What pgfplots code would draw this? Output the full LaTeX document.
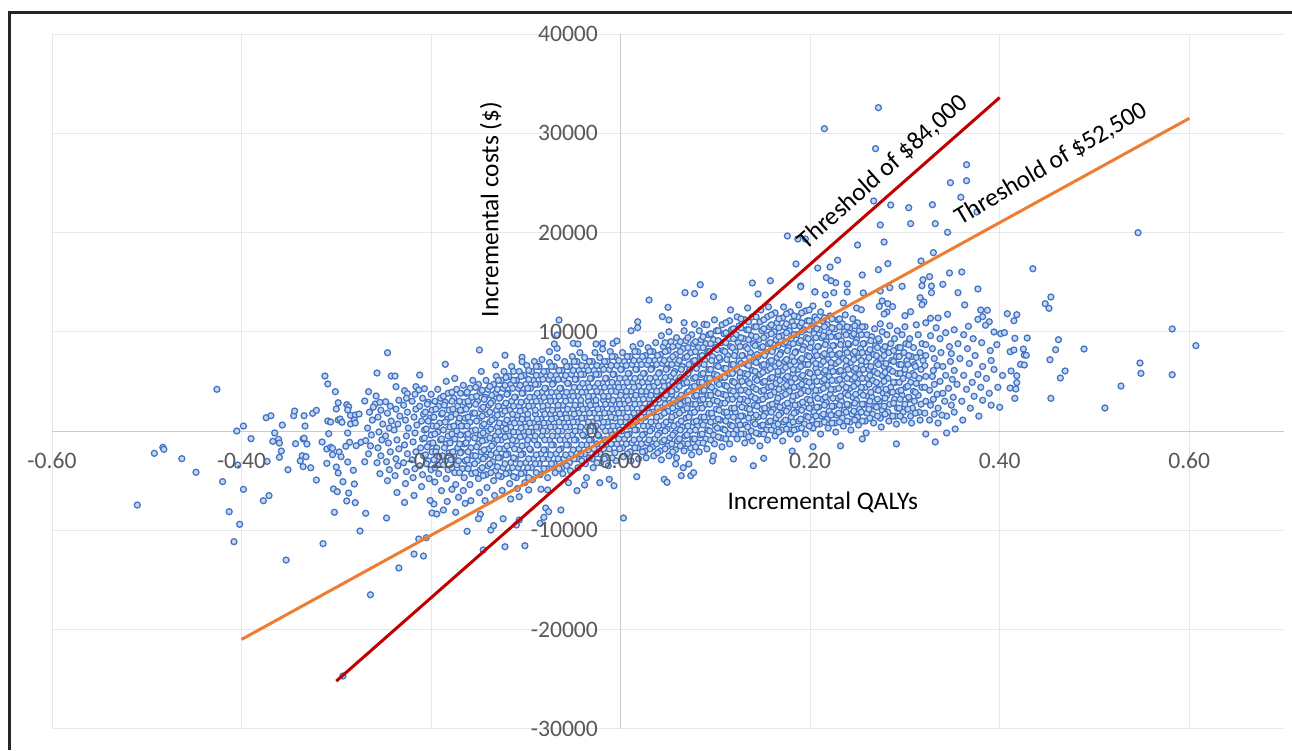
\documentclass[border=0pt]{standalone}
\usepackage{fontspec}
\setmainfont{Carlito}
\usepackage{pgfplots}
\pgfplotsset{compat=1.18}
\usepackage{pgfplotstable}
\definecolor{ptline}{HTML}{4472C4}
\definecolor{ptfill}{HTML}{C4D9F0}
\definecolor{tick}{HTML}{595959}
\pgfplotstableread{
-.510 -7460
-.492 -2250
-.483 -1650
-.482 -1850
-.463 -2790
-.426 4200
-.448 -4160
-.420 -5100
-.405 0
-.398 500
-.404 -3430
-.398 -5880
-.413 -8130
-.402 -9400
-.408 -11150
-.353 -13000
-.314 -11350
-.275 -10080
-.264 -16500
-.234 -13800
-.218 -12400
-.208 -12600
-.213 -10880
-.205 -10750
-.293 -24680
-.390 -770
-.374 1340
-.369 1540
-.357 600
-.365 -200
-.367 -1040
-.361 -840
-.360 -1210
-.358 -2020
-.360 -2650
-.373 -3060
-.371 -6510
-.377 -7020
-.351 -3900
-.345 1540
-.344 2010
-.334 1540
-.333 500
-.325 1780
-.321 2080
-.343 -1280
-.335 -800
-.334 -730
-.331 -1310
-.336 -2490
-.332 -2590
-.338 -3020
-.335 -3590
-.327 -3700
-.321 -4940
-.315 -1110
-.308 -270
-.312 5540
-.309 4740
-.301 3960
-.298 2850
-.300 2220
-.309 1010
-.306 910
-.298 1110
-.296 1210
-.294 880
-.289 2650
-.287 2450
-.288 2120
-.285 1580
-.280 1610
-.276 1710
-.285 710
-.281 1110
-.280 810
-.288 -200
-.286 -1140
-.290 -1540
-.279 -1480
-.274 -1140
-.269 -970
-.310 -1810
-.306 -1650
-.304 -1750
-.304 -2390
-.297 -2110
-.295 -2590
-.310 -3260
-.300 -3630
-.298 -4230
-.288 -3120
-.282 -3960
-.293 -5110
-.281 -5340
-.303 -5840
-.299 -6110
-.287 -6250
-.289 -7050
-.280 -7220
-.302 -8190
-.269 -8290
-.247 -8770
-.246 7890
-.257 5840
-.242 5540
-.238 5540
-.212 5640
-.237 4470
-.266 3960
-.258 3530
-.270 3020
-.259 2720
-.254 2890
-.248 2950
-.228 4060
-.225 3760
-.216 4470
-.213 4130
-.207 4260
-.149 8160
-.122 7630
-.185 6720
-.104 7430
-.104 6980
-.132 6650
-.075 7990
-.067 8330
-.070 8770
-.065 11180
-.067 9670
-.050 8830
-.045 8770
-.026 8770
-.019 8830
-.019 8260
-.008 8830
-.004 9070
.011 10100
.018 10410
.018 11010
.030 13200
.050 12460
.044 11520
.051 11180
.067 10910
.078 10750
.088 10750
.068 13940
.078 13840
.084 14740
.098 13530
.139 14910
.158 15140
.145 13800
.190 14610
.205 14030
.216 13700
.227 14940
.239 14810
.003 -8770
.046 -4870
.049 -5170
.064 -4500
.074 -4500
.077 -4200
.058 -3330
.072 -3330
.066 -3700
.017 -4600
-.007 -5510
-.012 -4870
-.022 -5210
-.036 -4700
-.046 -6010
-.055 -5210
-.038 -5440
-.063 -7960
-.079 -7760
-.081 -8700
-.085 -9300
-.076 -8130
-.101 -11560
-.122 -11660
-.145 -11990
-.162 -10110
-.137 -9980
-.134 -9540
-.110 -9470
-.107 -8970
-.124 -8840
-.148 -8390
-.150 -8840
-.174 -8190
-.187 -7960
-.199 -8260
-.194 -8360
-.197 -7360
-.171 -6680
-.164 -7290
-.158 -7020
-.143 -7020
-.116 -6850
-.107 -6620
-.097 -5940
-.084 -5870
-.077 -5940
-.178 -5870
-.189 -6010
-.196 -5140
.140 -3500
.151 -2750
.181 -2020
.203 -1580
.119 -2820
.097 -3020
.098 -2490
.272 32580
.215 30460
.269 28450
.365 26830
.365 25220
.348 25020
.359 23550
.267 23180
.285 22770
.304 22500
.329 22800
.376 22070
.274 20760
.306 20890
.332 20890
.345 20020
.250 18740
.278 19040
.330 17970
.176 19650
.187 19350
.195 19350
.185 16830
.208 16420
.221 16520
.229 17210
.282 16860
.272 16250
.255 15720
.317 17130
.347 15920
.360 16020
.435 16350
.546 19980
.582 10280
.607 8600
.548 6850
.549 5810
.582 5670
.528 4530
.511 2320
.489 8260
.469 6050
.464 5340
.454 3290
.453 7180
.459 8190
.462 9200
.454 13500
.448 12830
.452 12360
.408 11820
.418 11720
.415 11110
.394 9980
.401 9810
.405 9910
.416 9340
.429 9370
.411 7990
.415 8160
.425 8260
.426 7660
.428 7630
.422 6720
.426 6650
.412 6050
.418 5570
.418 4870
.411 4330
.417 4230
.416 3290
.400 2390
.377 14310
.356 13940
.363 12700
.380 12190
.387 12160
.377 11250
.382 11520
.389 11010
.385 10650
.367 10550
.340 14780
.326 15550
.319 15240
.318 14640
.328 14610
.328 13940
.297 14580
.284 14440
.274 14110
.256 13910
.239 14010
.222 15140
.217 15450
.190 14540
.205 14010
.225 13940
.316 13430
.320 13000
.318 12730
.276 13100
.273 12560
.282 12830
.287 12530
.300 11620
.306 12020
.281 11990
.278 11790
.249 12390
.254 12220
.345 11760
.335 11390
.327 11360
.397 8700
.390 8100
.381 8900
.372 9300
.362 9700
.352 10200
.343 9900
.333 10400
.322 10900
.312 10700
.391 7100
.382 6500
.374 7600
.366 8300
.356 8800
.347 8500
.337 9300
.327 9600
.403 5600
.394 6200
.386 5300
.377 5700
.368 6800
.358 7300
.348 7000
.338 7900
.329 8300
.398 4400
.389 3800
.380 4400
.371 4900
.362 5600
.352 6100
.343 5600
.334 6600
.391 2600
.382 3100
.373 3500
.365 4200
.355 4700
.346 4300
.337 5000
.329 5500
.378 1500
.369 2300
.360 3000
.351 3400
.342 3000
.334 3700
.326 4100
.361 1100
.352 1900
.344 1500
.335 2300
.327 2600
.353 200
.344 -200
.335 800
.326 1100
.332 -1100
.322 -300
.291 -1300
.255 -800
.232 -1500
-.270 -3100
-.266 -2300
-.264 -1500
-.263 -400
-.267 300
-.262 1100
-.265 1900
-.261 2400
-.254 -4300
-.257 -3200
-.253 -2500
-.256 -1700
-.252 -900
-.255 -100
-.251 700
-.256 1400
-.253 2100
-.246 -5000
-.244 -3900
-.247 -3100
-.243 -2100
-.245 -1200
-.248 -500
-.244 300
-.242 1000
-.246 1800
-.243 2500
-.236 -6200
-.238 -4500
-.235 -3500
-.237 -2800
-.234 -1800
-.236 -900
-.239 100
-.235 700
-.233 1500
-.237 2200
-.234 3100
-.228 -7200
-.227 -5300
-.226 -4100
-.229 -3200
-.225 -2300
-.228 -1400
-.226 -500
-.224 300
-.227 1100
-.225 1900
-.229 2600
-.226 3300
-.218 -6500
-.219 -4700
-.217 -3800
-.220 -2900
-.216 -2100
-.219 -1100
-.217 -200
-.215 600
-.218 1400
-.216 2200
-.220 3000
-.217 3700
-.210 -5600
-.209 -4400
-.212 -3500
-.208 -2500
-.211 -1700
-.209 -800
-.207 100
-.210 1000
-.208 1700
-.212 2500
-.209 3300
-.201 -7000
-.202 -4800
-.200 -3900
-.203 -3000
-.199 -2100
-.202 -1300
-.200 -400
-.198 500
-.201 1300
-.199 2100
-.203 2900
-.200 3700
-.192 -4300
-.193 -3400
-.191 -2600
-.194 -1700
-.190 -900
-.193 -100
-.191 800
-.189 1700
-.192 2500
-.190 3300
-.193 4200
-.183 -7100
-.184 -4800
-.182 -3900
-.185 -3000
-.181 -2200
-.184 -1300
-.182 -500
-.180 400
-.183 1200
-.181 2100
-.185 2900
-.182 3800
-.184 5000
-.174 -5400
-.175 -4200
-.173 -3400
-.176 -2500
-.172 -1700
-.175 -800
-.173 0
-.171 900
-.174 1700
-.172 2500
-.176 3300
-.173 4200
-.175 5300
-.166 -6000
-.165 -4700
-.167 -3800
-.164 -3000
-.168 -2100
-.165 -1300
-.163 -400
-.166 500
-.164 1300
-.167 2100
-.165 2900
-.163 3800
-.166 4600
-.159 -5400
-.157 -4300
-.160 -3400
-.156 -2500
-.158 -1700
-.161 -800
-.157 0
-.159 900
-.156 1800
-.160 2600
-.157 3400
-.159 4300
-.156 5100
-.149 -6200
-.150 -4800
-.148 -3900
-.151 -3000
-.147 -2100
-.150 -1300
-.148 -400
-.146 500
-.149 1300
-.147 2200
-.151 3000
-.148 3900
-.150 4700
-.147 6000
-.141 -5700
-.142 -4400
-.140 -3500
-.143 -2600
-.139 -1800
-.142 -900
-.140 0
-.138 900
-.141 1700
-.139 2600
-.143 3400
-.140 4200
-.142 5100
-.133 -6500
-.134 -5000
-.132 -4000
-.135 -3100
-.131 -2200
-.134 -1300
-.132 -500
-.130 400
-.133 1300
-.131 2100
-.135 3000
-.132 3800
-.134 4700
-.131 5500
-.125 -6000
-.126 -4600
-.124 -3700
-.127 -2700
-.123 -1800
-.126 -900
-.124 0
-.122 800
-.125 1700
-.123 2500
-.127 3400
-.124 4300
-.126 5100
-.123 6000
-.117 -5300
-.118 -4200
-.116 -3200
-.119 -2300
-.115 -1400
-.118 -500
-.116 400
-.114 1200
-.117 2100
-.115 3000
-.119 3800
-.116 4700
-.118 5500
-.115 6500
-.109 -5800
-.110 -4700
-.108 -3700
-.111 -2800
-.107 -1900
-.110 -1000
-.108 -100
-.106 800
-.109 1600
-.107 2500
-.111 3400
-.108 4300
-.110 5100
-.107 6000
-.101 -5200
-.102 -4200
-.100 -3200
-.103 -2300
-.099 -1400
-.102 -500
-.100 400
-.098 1200
-.101 2100
-.099 3000
-.103 3800
-.100 4700
-.102 5600
-.099 6600
-.093 -4900
-.094 -3700
-.092 -2800
-.095 -1900
-.091 -900
-.094 -100
-.092 800
-.090 1700
-.093 2500
-.091 3400
-.095 4300
-.092 5100
-.094 6000
-.091 7000
-.085 -4400
-.086 -3300
-.084 -2300
-.087 -1400
-.083 -500
-.086 400
-.084 1200
-.082 2100
-.085 3000
-.083 3900
-.087 4700
-.084 5600
-.086 6500
-.083 7200
-.077 -4700
-.078 -3800
-.076 -2800
-.079 -1900
-.075 -900
-.078 0
-.076 800
-.074 1700
-.077 2600
-.075 3400
-.079 4300
-.076 5200
-.078 6000
-.075 6900
-.069 -4200
-.070 -3300
-.068 -2300
-.071 -1400
-.067 -500
-.070 400
-.068 1300
-.066 2100
-.069 3000
-.067 3900
-.071 4800
-.068 5600
-.070 6500
-.067 7400
-.061 -4300
-.062 -3700
-.060 -2800
-.063 -1800
-.059 -900
-.062 0
-.060 800
-.058 1700
-.061 2600
-.059 3500
-.063 4300
-.060 5200
-.062 6100
-.059 7000
-.053 -4000
-.054 -3200
-.052 -2300
-.055 -1400
-.051 -400
-.054 400
-.052 1300
-.050 2200
-.053 3100
-.051 3900
-.055 4800
-.052 5700
-.054 6500
-.051 7500
-.045 -3700
-.046 -2800
-.044 -1800
-.047 -900
-.043 0
-.046 900
-.044 1800
-.042 2600
-.045 3500
-.043 4400
-.047 5200
-.044 6100
-.046 7000
-.043 7900
-.037 -3300
-.038 -2300
-.036 -1400
-.039 -500
-.035 400
-.038 1300
-.036 2200
-.034 3000
-.037 3900
-.035 4800
-.039 5700
-.036 6500
-.038 7400
-.029 -3700
-.030 -2800
-.028 -1800
-.031 -900
-.027 0
-.030 900
-.028 1800
-.026 2600
-.029 3500
-.027 4400
-.031 5300
-.028 6100
-.030 7000
-.027 7900
-.021 -3200
-.022 -2300
-.020 -1400
-.023 -500
-.019 400
-.022 1300
-.020 2200
-.018 3100
-.021 3900
-.019 4800
-.023 5700
-.020 6500
-.022 7400
-.013 -3500
-.014 -2700
-.012 -1800
-.015 -900
-.011 0
-.014 900
-.012 1800
-.010 2700
-.013 3500
-.011 4400
-.015 5300
-.012 6200
-.014 7000
-.011 8000
-.005 -3000
-.006 -2200
-.004 -1300
-.007 -400
-.003 500
-.006 1300
-.004 2200
-.002 3100
-.005 4000
-.003 4800
-.007 5700
-.004 6600
-.006 7500
.003 -2600
.002 -1700
.004 -800
.001 0
.005 900
.002 1800
.004 2700
.006 3500
.003 4400
.005 5300
.001 6200
.004 7000
.002 7900
.011 -3000
.010 -2100
.012 -1200
.009 -300
.013 500
.010 1400
.012 2300
.014 3200
.011 4000
.013 4900
.009 5800
.012 6700
.010 7500
.013 8500
.019 -2800
.018 -1700
.020 -800
.017 100
.021 1000
.018 1800
.020 2700
.022 3600
.019 4500
.021 5400
.017 6200
.020 7100
.018 8000
.021 8800
.027 -2700
.026 -2000
.028 -1200
.025 -300
.029 500
.026 1400
.028 2300
.030 3200
.027 4000
.029 4900
.025 5800
.028 6700
.026 7600
.029 8400
.035 -2500
.034 -1600
.036 -800
.033 200
.037 1000
.034 1900
.036 2800
.038 3600
.035 4500
.037 5400
.033 6300
.036 7100
.034 8000
.037 8900
.043 -2900
.042 -2000
.044 -1100
.041 -200
.045 600
.042 1500
.044 2400
.046 3300
.043 4100
.045 5000
.041 5900
.044 6800
.042 7700
.045 8500
.043 9600
.051 -2500
.050 -1500
.052 -700
.049 200
.053 1100
.050 2000
.052 2800
.054 3700
.051 4600
.053 5500
.049 6300
.052 7200
.050 8100
.053 9000
.051 10000
.059 -2700
.058 -1900
.060 -1000
.057 -200
.061 700
.058 1600
.060 2500
.062 3300
.059 4200
.061 5100
.057 6000
.060 6800
.058 7700
.061 8600
.059 9400
.067 -2000
.066 -1300
.068 -500
.065 400
.069 1300
.066 2100
.068 3000
.070 3900
.067 4800
.069 5600
.065 6500
.068 7400
.066 8300
.069 9100
.067 10100
.075 -2400
.074 -1700
.076 -800
.073 0
.077 900
.074 1800
.076 2700
.078 3500
.075 4400
.077 5300
.073 6200
.076 7000
.074 7900
.077 8800
.075 9700
.083 -2100
.082 -1200
.084 -400
.081 500
.085 1400
.082 2300
.084 3100
.086 4000
.083 4900
.085 5700
.081 6600
.084 7500
.082 8400
.085 9200
.083 10100
.091 -1800
.090 -800
.092 100
.089 1000
.093 1800
.090 2700
.092 3600
.094 4500
.091 5300
.093 6200
.089 7100
.092 8000
.090 8800
.093 9700
.091 10700
.099 -1300
.098 -400
.100 500
.097 1400
.101 2200
.098 3100
.100 4000
.102 4900
.099 5700
.101 6600
.097 7500
.100 8400
.098 9200
.101 10100
.099 11200
.107 -1600
.106 -700
.108 200
.105 1100
.109 1900
.106 2800
.108 3700
.110 4600
.107 5400
.109 6300
.105 7200
.108 8100
.106 8900
.109 9800
.107 10700
.115 -1300
.114 -300
.116 600
.113 1500
.117 2300
.114 3200
.116 4100
.118 5000
.115 5800
.117 6700
.113 7600
.116 8500
.114 9300
.117 10200
.115 11100
.116 12200
.123 -800
.122 100
.124 1000
.121 1900
.125 2700
.122 3600
.124 4500
.126 5400
.123 6200
.125 7100
.121 8000
.124 8900
.122 9700
.125 10600
.123 11500
.131 -1200
.130 -300
.132 600
.129 1500
.133 2300
.130 3200
.132 4100
.134 5000
.131 5800
.133 6700
.129 7600
.132 8500
.130 9300
.133 10200
.131 11200
.134 12400
.139 -1000
.138 0
.140 900
.137 1800
.141 2600
.138 3500
.140 4400
.142 5300
.139 6100
.141 7000
.137 7900
.140 8800
.138 9600
.141 10500
.139 11500
.147 -1500
.146 -300
.148 500
.145 1400
.149 2200
.146 3100
.148 4000
.150 4900
.147 5700
.149 6600
.145 7500
.148 8400
.146 9200
.149 10100
.147 11000
.148 12200
.155 -900
.154 100
.156 900
.153 1800
.157 2600
.154 3500
.156 4400
.158 5300
.155 6100
.157 7000
.153 7900
.156 8800
.154 9600
.157 10500
.155 11500
.156 12500
.163 -500
.162 500
.164 1300
.161 2200
.165 3000
.162 3900
.164 4800
.166 5700
.163 6500
.165 7400
.161 8300
.164 9200
.162 10000
.165 10900
.163 11900
.171 -1000
.170 100
.172 900
.169 1800
.173 2600
.170 3500
.172 4400
.174 5300
.171 6100
.173 7000
.169 7900
.172 8800
.170 9600
.173 10500
.171 11400
.172 12500
.179 -300
.178 600
.180 1400
.177 2300
.181 3100
.178 4000
.180 4900
.182 5800
.179 6600
.181 7500
.177 8400
.180 9300
.178 10100
.181 11000
.179 12000
.187 -800
.186 200
.188 1000
.185 1900
.189 2700
.186 3600
.188 4500
.190 5400
.187 6200
.189 7100
.185 8000
.188 8900
.186 9700
.189 10600
.187 11500
.188 12700
.195 -300
.194 700
.196 1500
.193 2400
.197 3200
.194 4100
.196 5000
.198 5900
.195 6700
.197 7600
.193 8500
.196 9400
.194 10200
.197 11100
.195 12100
.203 300
.202 1100
.204 1900
.201 2800
.205 3600
.202 4500
.204 5400
.206 6300
.203 7100
.205 8000
.201 8900
.204 9800
.202 10600
.205 11500
.203 12600
.211 -300
.210 700
.212 1500
.209 2400
.213 3200
.210 4100
.212 5000
.214 5900
.211 6700
.213 7600
.209 8500
.212 9400
.210 10200
.213 11100
.211 12000
.219 300
.218 1200
.220 2000
.217 2900
.221 3700
.218 4600
.220 5500
.222 6400
.219 7200
.221 8100
.217 9000
.220 9900
.218 10700
.221 11600
.219 12800
.227 -100
.226 800
.228 1600
.225 2500
.229 3300
.226 4200
.228 5100
.230 6000
.227 6800
.229 7700
.225 8600
.228 9500
.226 10300
.229 11200
.235 500
.234 1300
.236 2100
.233 3000
.237 3800
.234 4700
.236 5600
.238 6500
.235 7300
.237 8200
.233 9100
.236 10000
.234 10800
.237 11700
.235 12900
.243 100
.242 900
.244 1700
.241 2600
.245 3400
.242 4300
.244 5200
.246 6100
.243 6900
.245 7800
.241 8700
.244 9600
.242 10400
.245 11300
.251 600
.250 1400
.252 2200
.249 3100
.253 3900
.250 4800
.252 5700
.254 6600
.251 7400
.253 8300
.249 9200
.252 10100
.250 10900
.259 -200
.258 1000
.260 1800
.257 2700
.261 3500
.258 4400
.260 5300
.262 6200
.259 7000
.261 7900
.257 8800
.260 9700
.258 10500
.267 800
.266 1700
.268 2500
.265 3400
.269 4200
.266 5100
.268 6000
.270 6900
.267 7700
.269 8600
.265 9500
.268 10300
.275 400
.274 1300
.276 2100
.273 3000
.277 3800
.274 4700
.276 5600
.278 6500
.275 7300
.277 8200
.273 9100
.276 10000
.274 10800
.283 1000
.282 1900
.284 2700
.281 3600
.285 4400
.282 5300
.284 6200
.286 7100
.283 7900
.285 8800
.281 9700
.284 10600
.291 700
.290 1500
.292 2300
.289 3200
.293 4000
.290 4900
.292 5800
.294 6700
.291 7500
.293 8400
.289 9300
.292 10100
.299 1100
.298 1900
.300 2700
.297 3600
.301 4400
.298 5300
.300 6200
.302 7100
.299 7900
.301 8800
.297 9700
.300 10500
.307 800
.306 1500
.308 2300
.305 3200
.309 4000
.306 4900
.308 5800
.310 6700
.307 7500
.309 8400
.305 9300
.316 1100
.315 1900
.317 2700
.314 3600
.318 4400
.315 5300
.317 6200
.319 7100
.316 7900
.318 8800
.314 9700
}\cloud
\pgfplotstableread{
-.205 -3300
-.206 -2400
-.204 -1600
-.207 -700
-.205 200
-.203 1000
-.206 1900
-.204 2700
-.196 -3700
-.197 -2900
-.195 -2100
-.198 -1200
-.196 -300
-.194 500
-.197 1400
-.195 2200
-.196 3000
-.187 -3400
-.188 -2500
-.186 -1700
-.189 -800
-.187 100
-.185 900
-.188 1800
-.186 2600
-.187 3500
-.178 -3700
-.179 -2900
-.177 -2100
-.180 -1200
-.178 -300
-.176 500
-.179 1400
-.177 2200
-.178 3000
-.178 3900
-.170 -4200
-.171 -3000
-.169 -2200
-.170 -1300
-.169 -400
-.168 500
-.170 1300
-.169 2100
-.170 3000
-.169 3800
-.161 -3800
-.162 -2900
-.161 -2100
-.163 -1200
-.161 -300
-.162 500
-.161 1400
-.163 2200
-.161 3000
-.162 3900
-.153 -4200
-.154 -3300
-.153 -2500
-.152 -1600
-.154 -700
-.153 100
-.152 1000
-.154 1800
-.153 2700
-.152 3500
-.153 4400
-.145 -4500
-.146 -3700
-.145 -2800
-.144 -1900
-.146 -1000
-.145 -200
-.144 700
-.146 1500
-.145 2400
-.144 3200
-.146 4100
-.137 -4200
-.138 -3300
-.137 -2400
-.136 -1500
-.138 -700
-.137 200
-.136 1100
-.138 1900
-.137 2800
-.136 3600
-.138 4500
-.129 -4500
-.130 -3600
-.129 -2700
-.128 -1800
-.130 -900
-.129 -100
-.128 800
-.130 1600
-.129 2500
-.128 3300
-.130 4200
-.129 5100
-.121 -4300
-.122 -3300
-.121 -2400
-.120 -1500
-.122 -600
-.121 200
-.120 1100
-.122 2000
-.121 2800
-.120 3700
-.122 4600
-.121 5400
-.113 -4600
-.114 -3700
-.113 -2700
-.112 -1800
-.114 -900
-.113 -100
-.112 800
-.114 1700
-.113 2500
-.112 3400
-.114 4300
-.113 5100
-.113 6000
-.105 -4300
-.106 -3300
-.105 -2400
-.104 -1500
-.106 -600
-.105 300
-.104 1200
-.106 2000
-.105 2900
-.104 3800
-.106 4600
-.105 5500
-.097 -4700
-.098 -3700
-.097 -2800
-.096 -1800
-.098 -900
-.097 -100
-.096 800
-.098 1700
-.097 2500
-.096 3400
-.098 4300
-.097 5200
-.097 6100
-.089 -4200
-.090 -3300
-.089 -2400
-.088 -1400
-.090 -500
-.089 400
-.088 1200
-.090 2100
-.089 3000
-.088 3800
-.090 4700
-.089 5600
-.089 6500
-.081 -3800
-.082 -2800
-.081 -1900
-.080 -900
-.082 0
-.081 800
-.080 1700
-.082 2500
-.081 3400
-.080 4300
-.082 5200
-.081 6000
-.073 -3300
-.074 -2400
-.073 -1400
-.072 -500
-.074 400
-.073 1200
-.072 2100
-.074 3000
-.073 3900
-.072 4700
-.074 5600
-.073 6500
-.065 -3800
-.066 -2800
-.065 -1900
-.064 -900
-.066 0
-.065 900
-.064 1700
-.066 2600
-.065 3500
-.064 4300
-.066 5200
-.065 6100
-.057 -3500
-.058 -2400
-.057 -1400
-.056 -500
-.058 400
-.057 1300
-.056 2200
-.058 3000
-.057 3900
-.056 4800
-.058 5600
-.057 6500
-.049 -2800
-.050 -1900
-.049 -900
-.048 0
-.050 900
-.049 1700
-.048 2600
-.050 3500
-.049 4400
-.048 5200
-.050 6100
-.049 7000
-.041 -3000
-.042 -2300
-.041 -1400
-.040 -400
-.042 400
-.041 1300
-.040 2200
-.042 3100
-.041 3900
-.040 4800
-.042 5700
-.041 6600
-.033 -2700
-.034 -1900
-.033 -900
-.032 0
-.034 900
-.033 1800
-.032 2600
-.034 3500
-.033 4400
-.032 5300
-.034 6100
-.033 7000
-.025 -3200
-.026 -2300
-.025 -1300
-.024 -400
-.026 500
-.025 1300
-.024 2200
-.026 3100
-.025 4000
-.024 4800
-.026 5700
-.025 6600
-.017 -2800
-.018 -1800
-.017 -900
-.016 0
-.018 900
-.017 1800
-.016 2700
-.018 3500
-.017 4400
-.016 5300
-.018 6200
-.017 7000
-.009 -2700
-.010 -1300
-.009 -400
-.008 500
-.010 1400
-.009 2200
-.008 3100
-.010 4000
-.009 4900
-.008 5700
-.010 6600
-.009 7500
-.001 -1800
-.002 -800
-.001 100
0 900
-.002 1800
-.001 2700
0 3600
-.002 4400
-.001 5300
0 6200
-.002 7100
.007 -2300
.006 -1300
.007 -400
.008 500
.006 1400
.007 2300
.008 3100
.006 4000
.007 4900
.008 5800
.006 6600
.007 7500
.015 -1700
.014 -900
.015 100
.016 900
.014 1800
.015 2700
.016 3600
.014 4400
.015 5300
.016 6200
.014 7100
.015 8000
.023 -2100
.022 -1300
.023 -400
.024 500
.022 1400
.023 2300
.024 3200
.022 4000
.023 4900
.024 5800
.022 6700
.023 7500
.031 -1800
.030 -900
.031 0
.032 900
.030 1800
.031 2700
.032 3600
.030 4400
.031 5300
.032 6200
.030 7100
.031 8000
.039 -2200
.038 -1300
.039 -400
.040 500
.038 1400
.039 2300
.040 3200
.038 4000
.039 4900
.040 5800
.038 6700
.039 7600
.047 -1800
.046 -900
.047 0
.048 900
.046 1800
.047 2700
.048 3600
.046 4500
.047 5400
.048 6200
.046 7100
.047 8000
.047 8900
.055 -2100
.054 -1300
.055 -400
.056 500
.054 1400
.055 2300
.056 3100
.054 4000
.055 4900
.056 5800
.054 6700
.055 7500
.055 8500
.063 -1500
.062 -800
.063 100
.064 1000
.062 1800
.063 2700
.064 3600
.062 4500
.063 5400
.064 6200
.062 7100
.063 8000
.063 9000
.071 -1300
.070 -400
.071 500
.072 1400
.070 2300
.071 3100
.072 4000
.070 4900
.071 5800
.072 6700
.070 7500
.071 8400
.071 9400
.079 -1600
.078 -800
.079 100
.080 1000
.078 1900
.079 2700
.080 3600
.078 4500
.079 5400
.080 6300
.078 7100
.079 8000
.079 9000
.087 -1200
.086 -300
.087 600
.088 1400
.086 2300
.087 3200
.088 4100
.086 4900
.087 5800
.088 6700
.086 7600
.087 8400
.087 9500
.095 -900
.094 0
.095 900
.096 1800
.094 2700
.095 3600
.096 4400
.094 5300
.095 6200
.096 7100
.094 8000
.095 8800
.095 9800
.103 -600
.102 300
.103 1200
.104 2100
.102 3000
.103 3800
.104 4700
.102 5600
.103 6500
.104 7400
.102 8200
.103 9100
.103 10100
.111 -800
.110 100
.111 1000
.112 1900
.110 2800
.111 3600
.112 4500
.110 5400
.111 6300
.112 7200
.110 8000
.111 8900
.111 9900
.111 10900
.119 -300
.118 500
.119 1400
.120 2300
.118 3200
.119 4000
.120 4900
.118 5800
.119 6700
.120 7600
.118 8400
.119 9300
.119 10300
.127 -300
.126 600
.127 1500
.128 2400
.126 3200
.127 4100
.128 5000
.126 5900
.127 6800
.128 7600
.126 8500
.127 9400
.127 10400
.127 11300
.135 -600
.134 400
.135 1300
.136 2200
.134 3000
.135 3900
.136 4800
.134 5700
.135 6600
.136 7400
.134 8300
.135 9200
.135 10200
.135 11000
.143 -200
.142 700
.143 1600
.144 2500
.142 3300
.143 4200
.144 5100
.142 6000
.143 6900
.144 7700
.142 8600
.143 9500
.143 10500
.143 11500
.151 -300
.150 600
.151 1500
.152 2300
.150 3200
.151 4100
.152 5000
.150 5900
.151 6700
.152 7600
.150 8500
.151 9400
.151 10300
.151 11200
.159 100
.158 1000
.159 1900
.160 2700
.158 3600
.159 4500
.160 5400
.158 6300
.159 7100
.160 8000
.158 8900
.159 9800
.159 10700
.159 11700
.167 -100
.166 700
.167 1600
.168 2400
.166 3300
.167 4200
.168 5100
.166 6000
.167 6800
.168 7700
.166 8600
.167 9500
.167 10400
.167 11300
.175 200
.174 1100
.175 2000
.176 2800
.174 3700
.175 4600
.176 5500
.174 6400
.175 7200
.176 8100
.174 9000
.175 9900
.175 10800
.175 11800
.183 100
.182 900
.183 1800
.184 2600
.182 3500
.183 4400
.184 5300
.182 6200
.183 7000
.184 7900
.182 8800
.183 9700
.183 10600
.183 11600
.191 300
.190 1200
.191 2100
.192 2900
.190 3800
.191 4700
.192 5600
.190 6500
.191 7300
.192 8200
.190 9100
.191 10000
.191 10900
.191 11900
.199 500
.198 1400
.199 2300
.200 3100
.198 4000
.199 4900
.200 5800
.198 6700
.199 7500
.200 8400
.198 9300
.199 10200
.199 11100
.199 12200
.207 700
.206 1500
.207 2400
.208 3300
.206 4100
.207 5000
.208 5900
.206 6800
.207 7600
.208 8500
.206 9400
.207 10300
.207 11200
.215 900
.214 1700
.215 2600
.216 3400
.214 4300
.215 5200
.216 6100
.214 7000
.215 7800
.216 8700
.214 9600
.215 10500
.215 11400
.223 800
.222 1600
.223 2500
.224 3300
.222 4200
.223 5100
.224 6000
.222 6900
.223 7700
.224 8600
.222 9500
.223 10400
.223 11300
.231 900
.230 1800
.231 2600
.232 3500
.230 4300
.231 5200
.232 6100
.230 7000
.231 7800
.232 8700
.230 9600
.231 10500
.231 11300
.239 1000
.238 1900
.239 2700
.240 3600
.238 4400
.239 5300
.240 6200
.238 7100
.239 7900
.240 8800
.238 9700
.239 10500
.247 1100
.246 2000
.247 2800
.248 3700
.246 4500
.247 5400
.248 6300
.246 7200
.247 8000
.248 8900
.246 9800
.247 10600
.255 1000
.254 1900
.255 2700
.256 3600
.254 4400
.255 5300
.256 6200
.254 7100
.255 7900
.256 8800
.254 9700
.255 10500
.263 1300
.262 2200
.263 3000
.264 3900
.262 4700
.263 5600
.264 6500
.262 7400
.263 8200
.264 9100
.271 1500
.270 2400
.271 3200
.272 4100
.270 4900
.271 5800
.272 6700
.270 7600
.271 8400
.272 9300
.279 1700
.278 2500
.279 3300
.280 4200
.278 5000
.279 5900
.280 6800
.278 7600
.279 8500
.295 1500
.294 2300
.295 3200
.296 4100
.294 4900
.295 5800
.296 6700
.294 7500
.295 8400
.311 1800
.310 3000
.311 3900
.312 4800
.310 5600
.311 6500
.312 7400
.287 1500
.288 2800
.287 3900
.288 4900
.287 6000
.288 7000
.288 8100
.303 2200
.304 3400
.303 4500
.304 5600
.303 6700
.304 7600
.304 8700
.321 1800
.322 3000
.321 4400
.322 5500
.321 6600
.322 7600
.322 8700
.331 1700
.330 3200
.331 4700
.330 6100
.331 7300
.339 1600
.340 3800
.340 6500
.349 2600
.350 5200
.349 7800
}\cloudcore
\begin{document}
\begin{tikzpicture}
\path[use as bounding box] (-39pt,-15.94pt) rectangle (930pt,546.56pt);
\begin{axis}[
  at={(0,0)}, anchor=south west,
  scale only axis, width=924pt, height=521.06pt,
  xmin=-0.6, xmax=0.7, ymin=-30000, ymax=40000,
  clip=false,
  axis x line=middle, axis y line=middle,
  axis line style={-, draw=black!20, line width=0.7pt},
  hide obscured x ticks=false, hide obscured y ticks=false,
  xtick={-0.6,-0.4,-0.2,0,0.2,0.4,0.6},
  ytick={-30000,-20000,-10000,0,10000,20000,30000,40000},
  xticklabels={}, yticklabels={},
  scaled ticks=false,
  major tick length=0pt,
  grid=major, grid style={draw=black!9, line width=0.6pt},
]
\addplot[only marks, mark=*, mark size=2.25pt, mark options={draw=ptline, fill=ptfill, line width=0.95pt}] table {\cloud};
\addplot[only marks, mark=*, mark size=2.25pt, mark options={draw=ptline, fill=ptfill, line width=0.95pt}] table {\cloudcore};
\end{axis}
\begin{axis}[
  at={(0,0)}, anchor=south west,
  scale only axis, width=924pt, height=521.06pt,
  xmin=-0.6, xmax=0.7, ymin=-30000, ymax=40000,
  clip=false,
  axis x line=middle, axis y line=middle,
  axis line style={draw=none},
  hide obscured x ticks=false, hide obscured y ticks=false,
  xtick={-0.6,-0.4,-0.2,0,0.2,0.4,0.6},
  ytick={-30000,-20000,-10000,0,10000,20000,30000,40000},
  major tick length=0pt,
  /pgf/number format/assume math mode=true,
  xticklabel style={/pgf/number format/.cd,fixed,fixed zerofill,precision=2,/tikz/.cd,
    font=\fontsize{17.7}{17.7}\selectfont, text=tick, anchor=north, yshift=-13pt},
  yticklabel style={/pgf/number format/.cd,1000 sep={},/tikz/.cd,
    font=\fontsize{17.7}{17.7}\selectfont, text=tick, anchor=east, xshift=-13.5pt},
  scaled ticks=false,
]
\addplot[color={rgb,255:red,237;green,125;blue,49}, line width=2.25pt] coordinates {(-0.4,-21000) (0.6,31500)};
\addplot[color={rgb,255:red,192;green,0;blue,0}, line width=2.25pt] coordinates {(-0.3,-25200) (0.4,33600)};
\node[rotate=41.8, font=\fontsize{19}{19}\selectfont] at (axis cs:0.2767,26100) {Threshold of \$84,000};
\node[rotate=30.6, font=\fontsize{19}{19}\selectfont] at (axis cs:0.454,26900) {Threshold of \$52,500};
\node[font=\fontsize{19}{19}\selectfont] at (axis cs:0.2133,-7150) {Incremental QALYs};
\node[rotate=90, font=\fontsize{19}{19}\selectfont] at (axis cs:-0.137,22320) {Incremental costs (\$)};
\end{axis}
\draw[line width=2.25pt, color=black!85] (-31.7pt,-15.94pt) -- (-31.7pt,537.4pt) -- (930pt,537.4pt);
\end{tikzpicture}
\end{document}
